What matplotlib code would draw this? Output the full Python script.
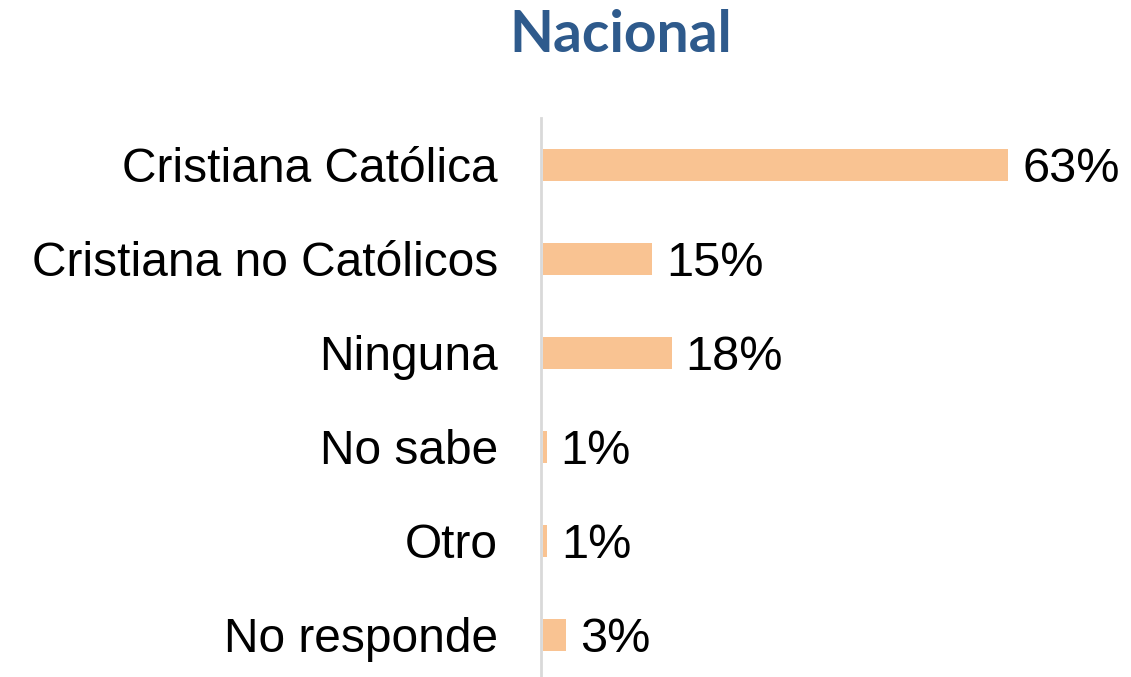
import matplotlib.pyplot as plt

# Data
categories = ["Cristiana Católica", "Cristiana no Católicos", "Ninguna",
              "No sabe", "Otro", "No responde"]
values = [63, 14.8, 17.4, 0.5, 0.6, 3.1]
value_labels = ["63%", "15%", "18%", "1%", "1%", "3%"]

plt.rcParams['font.family'] = ['Liberation Sans', 'DejaVu Sans']

fig = plt.figure(figsize=(11.31, 6.77), dpi=100)
ax = fig.add_axes([543 / 1131, 0, 1 - 543 / 1131, 1 - 118 / 677])

for side in ["top", "right", "bottom"]:
    ax.spines[side].set_visible(False)
ax.spines["left"].set_color("#D9D9D9")
ax.spines["left"].set_linewidth(2)
ax.spines["left"].set_position(("data", -0.25))

y = list(range(len(categories)))
ax.barh(y, values, height=0.35, color="#F9C392")

for yi, v, lab in zip(y, values, value_labels):
    ax.text(v + 1.9, yi + 0.05, lab, va="center", ha="left", fontsize=35)

ax.set_xlim(0, 79.6)
ax.set_ylim(5.947 - 0.5, -0.5)
ax.set_yticks(y)
ax.set_yticklabels(categories)
ax.tick_params(axis="y", length=0, pad=31, labelsize=34.5)
ax.set_xticks([])

fig.text(621 / 1131, 1 - 36 / 677, "Nacional", ha="center", va="center",
         fontsize=41, fontweight="bold", color="#2E5A8C",
         family=["Lato", "DejaVu Sans"])

fig.savefig("out.png", dpi=100)
